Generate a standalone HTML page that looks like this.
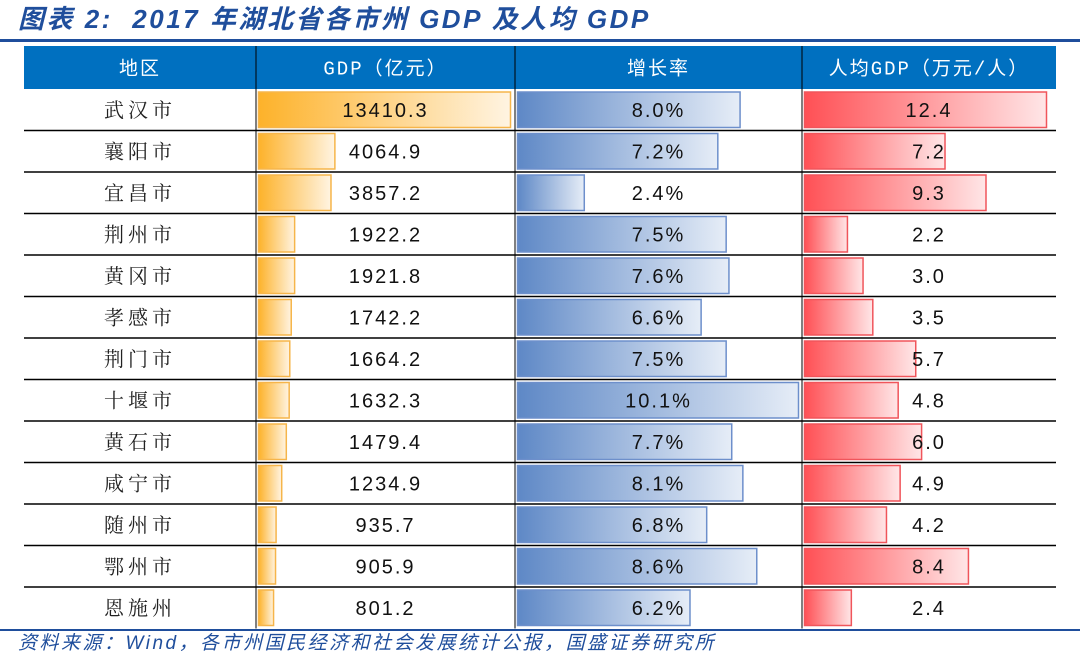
<!DOCTYPE html>
<html><head><meta charset="utf-8">
<style>
body{margin:0;width:1080px;height:662px;background:#fff;position:relative;overflow:hidden;font-family:"Liberation Sans","Noto Sans CJK SC",sans-serif;}
#title{position:absolute;left:18px;top:0;height:38px;line-height:38px;font-size:26px;letter-spacing:2.5px;font-weight:bold;font-style:italic;color:#1f4e9c;font-family:"Liberation Sans","Noto Sans CJK SC",sans-serif;white-space:nowrap;}
#tline{position:absolute;left:0;top:39px;width:1080px;height:3px;background:#1f4e9c;}
#tbl{position:absolute;left:0;top:0;}
#foot-line{position:absolute;left:0;top:629px;width:1080px;height:2px;background:#1f4e9c;}
#foot{position:absolute;left:18px;top:631px;font-size:19px;letter-spacing:2.5px;font-style:italic;color:#1f4e9c;white-space:nowrap;line-height:26px;font-family:"Liberation Sans","Noto Sans CJK SC",sans-serif;}
</style></head><body>
<div id="title">图表 2:&nbsp; 2017 年湖北省各市州 GDP 及人均 GDP</div>
<div id="tline"></div>
<svg id="tbl" width="1080" height="662">
<defs>
<linearGradient id="gO" x1="0" x2="1"><stop offset="0" stop-color="#fdb22a"/><stop offset="1" stop-color="#fff4e2"/></linearGradient>
<linearGradient id="gB" x1="0" x2="1"><stop offset="0" stop-color="#5e88c6"/><stop offset="1" stop-color="#e6edf7"/></linearGradient>
<linearGradient id="gR" x1="0" x2="1"><stop offset="0" stop-color="#ff5055"/><stop offset="1" stop-color="#ffe6e7"/></linearGradient>
</defs>
<g id="content"></g>
</svg>
<div id="foot-line"></div>
<div id="foot">资料来源：Wind，各市州国民经济和社会发展统计公报，国盛证券研究所</div>
<script>
const regions=["武汉市","襄阳市","宜昌市","荆州市","黄冈市","孝感市","荆门市","十堰市","黄石市","咸宁市","随州市","鄂州市","恩施州"];
const gdp=[13410.3,4064.9,3857.2,1922.2,1921.8,1742.2,1664.2,1632.3,1479.4,1234.9,935.7,905.9,801.2];
const growth=[8.0,7.2,2.4,7.5,7.6,6.6,7.5,10.1,7.7,8.1,6.8,8.6,6.2];
const perCap=[12.4,7.2,9.3,2.2,3.0,3.5,5.7,4.8,6.0,4.9,4.2,8.4,2.4];
const headers=["地区","GDP（亿元）","增长率","人均GDP（万元/人）"];

const NS="http://www.w3.org/2000/svg";
const g=document.getElementById('content');
function el(t,a){const e=document.createElementNS(NS,t);for(const k in a)e.setAttribute(k,a[k]);g.appendChild(e);return e;}
const colX=[24,256,515,802,1056];
const headTop=46,headH=43,rowTop=89,rowH=41.5;
const hdr=el('rect',{x:24,y:headTop,width:1032,height:headH,fill:'#0070c0'});


headers.forEach((h,i)=>{
 const t=el('text',{x:(colX[i]+colX[i+1])/2,y:headTop+headH/2+7,'text-anchor':'middle',fill:'#fff','font-size':19,'letter-spacing':2,'font-family':'"Liberation Mono","Noto Sans CJK SC",sans-serif'});
 t.textContent=h;
 
 
});
const maxG=Math.max(...gdp),maxGr=Math.max(...growth),maxP=Math.max(...perCap);
const scG=v=>v/maxG*252, scGr=v=>v/maxGr*281, scP=v=>v/maxP*242;
const fmt=[v=>v.toFixed(1),v=>v.toFixed(1)+'%',v=>v.toFixed(1)];
regions.forEach((r,i)=>{
 const y=rowTop+i*rowH, cy=y+rowH/2+7;
 const tx=el('text',{x:140,y:cy,'text-anchor':'middle','font-size':20,'letter-spacing':4,fill:'#222','font-family':'"Liberation Serif","Noto Serif CJK SC",serif'});
 tx.textContent=r;
 
 
 const sets=[[gdp,scG,'url(#gO)','#f6b54a'],[growth,scGr,'url(#gB)','#6d8fcb'],[perCap,scP,'url(#gR)','#f0555b']];
 sets.forEach((s,j)=>{
  const v=s[0][i];
  const b=el('rect',{x:colX[j+1]+2.5,y:y+3,width:s[1](v),height:rowH-6,fill:s[2],stroke:s[3],'stroke-width':1.5});
  
  
  const t=el('text',{x:(colX[j+1]+colX[j+2])/2,y:cy,'text-anchor':'middle','font-size':20,'letter-spacing':2,fill:'#111','font-family':'"Liberation Sans","Noto Sans CJK SC",sans-serif'});
  t.textContent=fmt[j](v);
  
  
 });
 if(i>0){const l=el('line',{x1:24,x2:1056,y1:y,y2:y,stroke:'#000','stroke-width':1.5});
  
  }
});
[256,515,802].forEach(x=>{
 const l=el('line',{x1:x,x2:x,y1:headTop,y2:rowTop+13*rowH,stroke:'#000','stroke-width':1});
 
 
});
</script>
</body></html>
